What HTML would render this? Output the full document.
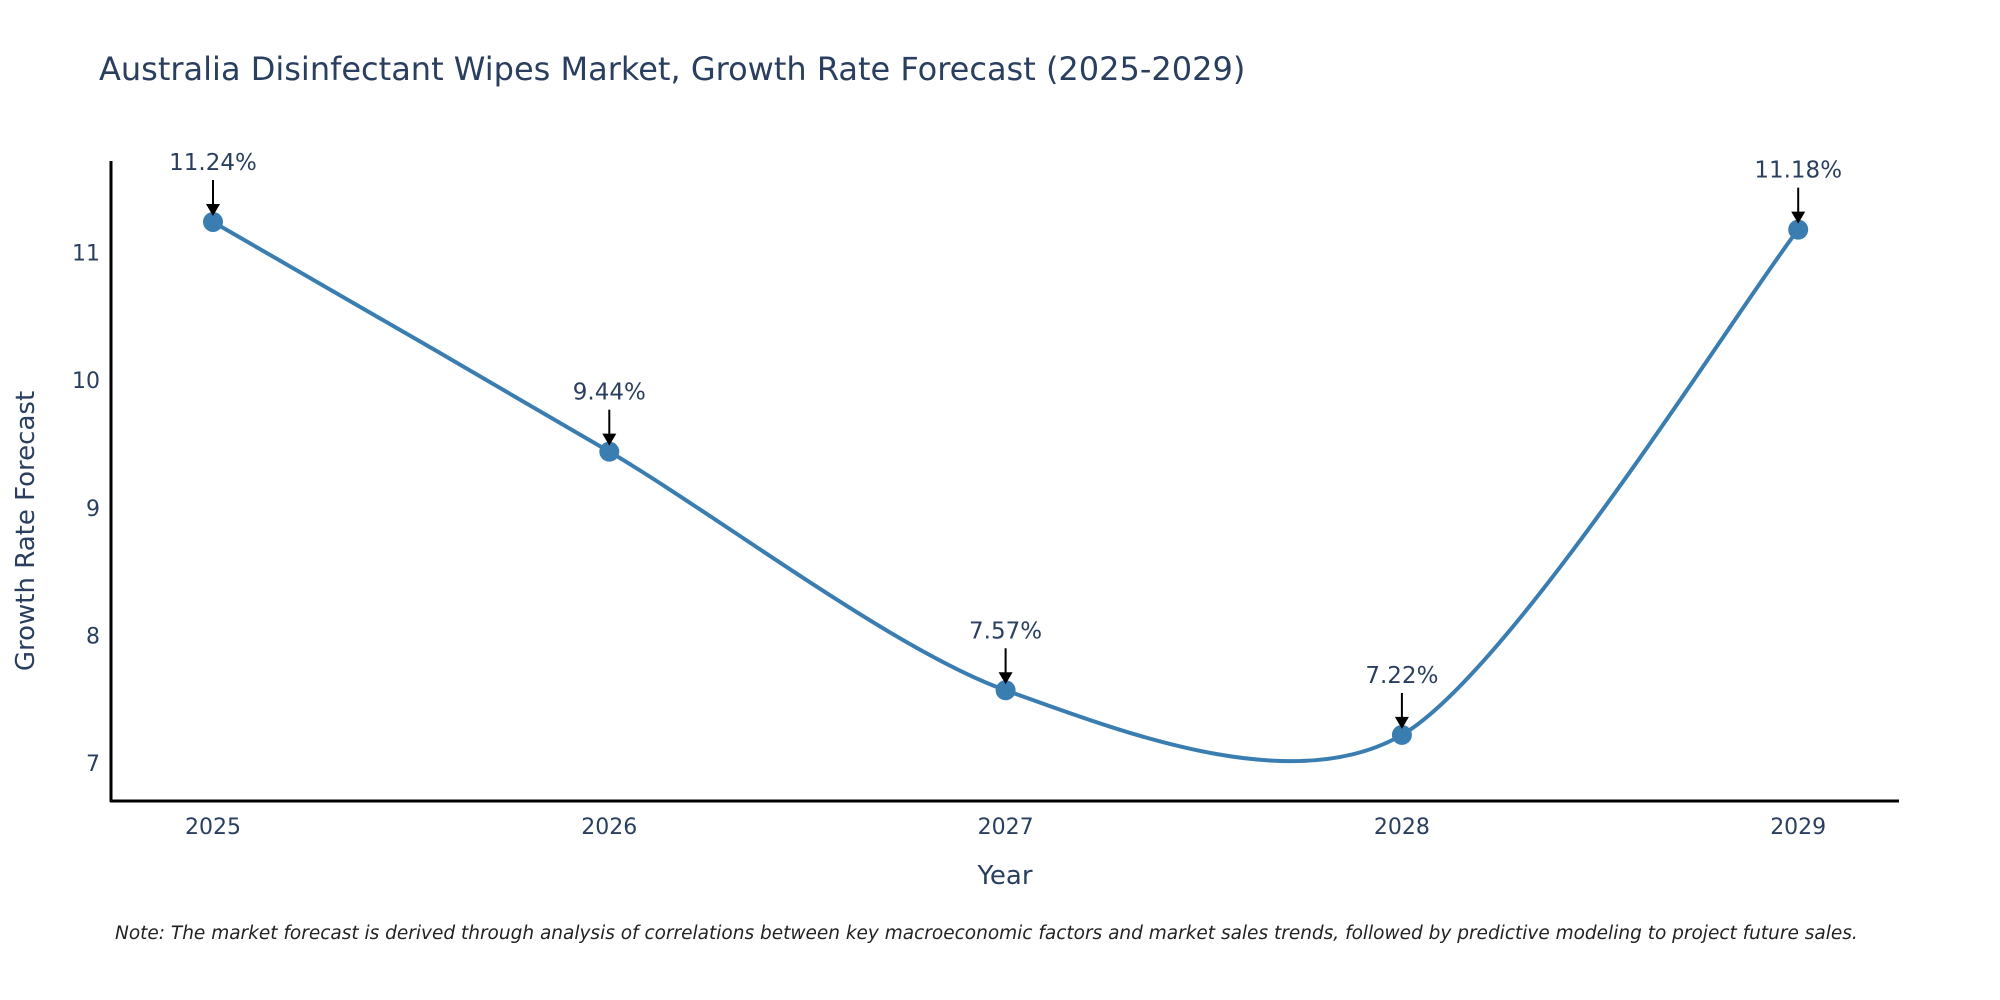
<!DOCTYPE html>
<html><head><meta charset="utf-8"><style>
body{margin:0;background:#fff;}
svg{display:block;font-family:"DejaVu Sans","Liberation Sans",sans-serif;}
</style></head><body>
<svg id="chart" width="2000" height="1000" viewBox="0 0 2000 1000">
<text x="99" y="80" font-size="32" fill="#2a3f5f">Australia Disinfectant Wipes Market, Growth Rate Forecast (2025-2029)</text>
<g id="plot"></g>
<text transform="translate(34,531) rotate(-90)" text-anchor="middle" font-size="26" fill="#2a3f5f">Growth Rate Forecast</text>
<text x="1005" y="884" text-anchor="middle" font-size="26" fill="#2a3f5f">Year</text>
<text x="115" y="939" font-size="18.5" font-style="italic" fill="#222">Note: The market forecast is derived through analysis of correlations between key macroeconomic factors and market sales trends, followed by predictive modeling to project future sales.</text>
</svg>
<script>
const years = ["2025","2026","2027","2028","2029"];
const growth = [11.24, 9.44, 7.57, 7.22, 11.18];
const yTicks = [7, 8, 9, 10, 11];

const NS = "http://www.w3.org/2000/svg";
const g = document.getElementById("plot");
const X0 = 213, XSTEP = 396.3;
const xs = i => X0 + i * XSTEP;
const ys = v => 763 - (v - 7) * 127.6;
function mk(tag, attrs, parent) {
  const e = document.createElementNS(NS, tag);
  for (const k in attrs) e.setAttribute(k, attrs[k]);
  (parent || g).appendChild(e);
  return e;
}
const ya = mk("line", {x1:111, y1:161, x2:111, y2:802, stroke:"#000", "stroke-width":3});


const xa = mk("line", {x1:110, y1:801, x2:1899, y2:801, stroke:"#000", "stroke-width":3});


yTicks.forEach(t => {
  const e = mk("text", {x:100, y:ys(t)+8, "text-anchor":"end", "font-size":22, fill:"#2a3f5f"});
  e.textContent = t;
  
  
});
years.forEach((yr, i) => {
  const e = mk("text", {x:xs(i), y:834, "text-anchor":"middle", "font-size":22, fill:"#2a3f5f"});
  e.textContent = yr;
  
  
});
const pts = growth.map((v, i) => [xs(i), ys(v)]);
const sm = 0.42;
let d = "M" + pts[0][0] + "," + pts[0][1];
for (let i = 0; i < pts.length - 1; i++) {
  const p0 = pts[Math.max(0, i-1)], p1 = pts[i], p2 = pts[i+1], p3 = pts[Math.min(pts.length-1, i+2)];
  const c1 = [p1[0] + (p2[0]-p0[0])*sm/3, p1[1] + (p2[1]-p0[1])*sm/3];
  const c2 = [p2[0] - (p3[0]-p1[0])*sm/3, p2[1] - (p3[1]-p1[1])*sm/3];
  d += " C" + c1 + " " + c2 + " " + p2;
}
const line = mk("path", {d:d, fill:"none", stroke:"#3a7db0", "stroke-width":4});


growth.forEach((v, i) => {
  const c = mk("circle", {cx:xs(i), cy:ys(v), r:10, fill:"#3a7db0"});
  
  
  const y = ys(v);
  const a = mk("line", {x1:xs(i), y1:y-42, x2:xs(i), y2:y-16, stroke:"#000", "stroke-width":2});
  
  
  const h = mk("polygon", {points:`${xs(i)-7},${y-18} ${xs(i)+7},${y-18} ${xs(i)},${y-6}`, fill:"#000"});
  
  
  const t = mk("text", {x:xs(i), y:y-52, "text-anchor":"middle", "font-size":23, fill:"#2a3f5f"});
  t.textContent = v.toFixed(2) + "%";
  
  
});
</script>
</body></html>
